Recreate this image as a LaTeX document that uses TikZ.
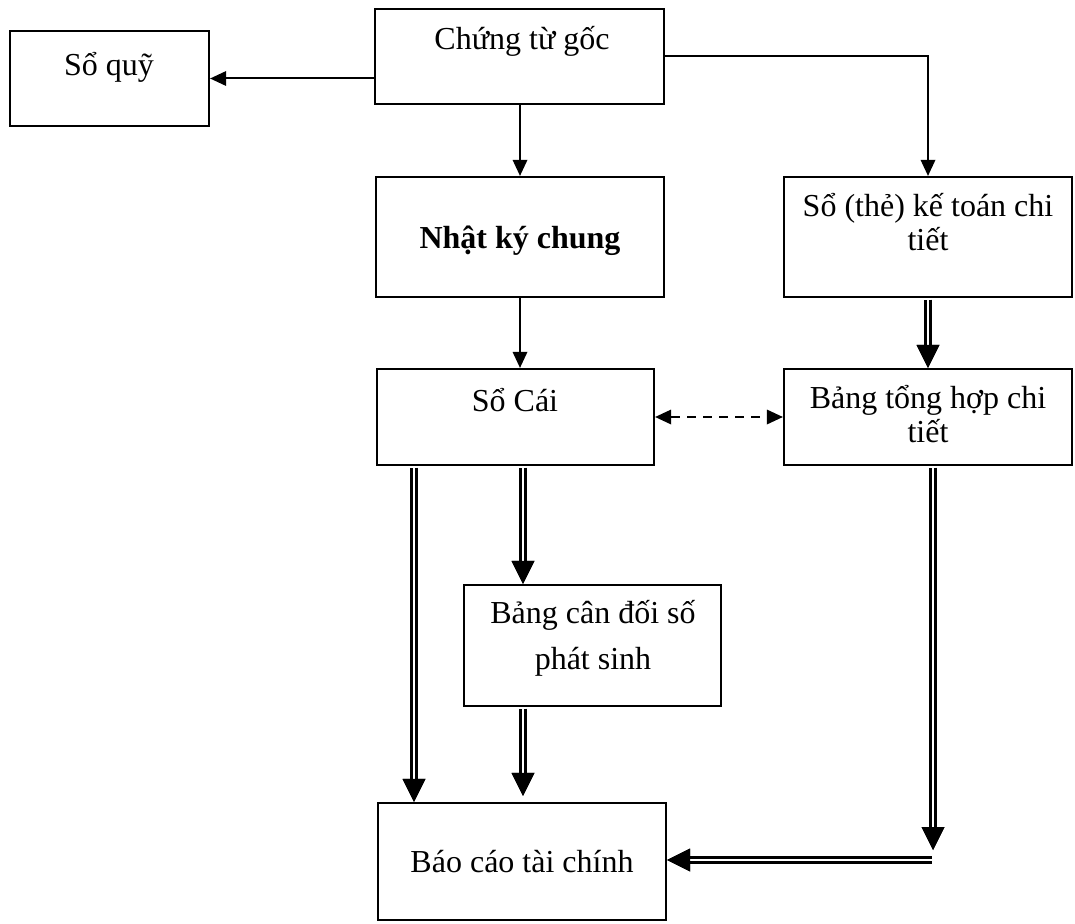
\documentclass[tikz,border=0pt]{standalone}
\usepackage{fontspec}
\setmainfont{Liberation Serif}
\usetikzlibrary{arrows.meta}
\begin{document}
\begin{tikzpicture}[x=1pt,y=-1pt,
  box/.style={draw, line width=2.3, rectangle, inner sep=0pt},
  lbl/.style={anchor=base, inner sep=0pt, font=\fontsize{32}{38}\selectfont},
  arr/.style={line width=2, -{Triangle[length=16pt,width=15pt,line width=0pt]}},
  dasharr/.style={line width=2, dash pattern=on 9pt off 7pt,
    {Triangle[length=16pt,width=15pt,line width=0pt]}-{Triangle[length=16pt,width=15pt,line width=0pt]}},
  dbl/.style={draw=white, line width=2.8, preaction={draw=black, line width=7.2},
    -{Triangle[length=23pt,width=23pt,line width=0pt,color=black]}, shorten <=1.5pt}
]
\useasboundingbox (0,0) rectangle (1075,923);

% boxes
\node[box, minimum width=199pt, minimum height=95pt]  (quy)  at (109.5,78.5) {};
\node[box, minimum width=289pt, minimum height=95pt]  (ctg)  at (519.5,56.5) {};
\node[box, minimum width=288pt, minimum height=120pt] (nkc)  at (520,237) {};
\node[box, minimum width=288pt, minimum height=120pt] (sct)  at (928,237) {};
\node[box, minimum width=277pt, minimum height=96pt]  (soc)  at (515.5,417) {};
\node[box, minimum width=288pt, minimum height=96pt]  (bth)  at (928,417) {};
\node[box, minimum width=257pt, minimum height=121pt] (bcd)  at (592.5,645.5) {};
\node[box, minimum width=288pt, minimum height=117pt] (bctc) at (522,861.5) {};

% labels
\node[lbl] (tquy)  at (109,76)  {Sổ quỹ};
\node[lbl] (tctg)  at (522,50)  {Chứng từ gốc};
\node[lbl, font=\fontsize{32}{38}\selectfont\bfseries] (tnkc) at (520,248) {Nhật ký chung};
\node[lbl] (tsct1) at (928,216) {Sổ (thẻ) kế toán chi};
\node[lbl] (tsct2) at (928,250) {tiết};
\node[lbl] (tsoc)  at (515,411) {Sổ Cái};
\node[lbl] (tbth1) at (928,408) {Bảng tổng hợp chi};
\node[lbl] (tbth2) at (928,442) {tiết};
\node[lbl] (tbcd1) at (593,623) {Bảng cân đối số};
\node[lbl] (tbcd2) at (593,669) {phát sinh};
\node[lbl] (tbctc) at (522,872) {Báo cáo tài chính};

% helper points on the right-hand return path
\coordinate (rdown) at (933,850);
\coordinate (rleft) at (933,860);

% single arrows
\draw[arr] (ctg.west |- quy.east) -- (quy.east);
\draw[arr] (ctg.south -| nkc.north) -- (nkc.north);
\draw[arr] (ctg.east) -| (sct.north);
\draw[arr] (nkc.south) -- (nkc.south |- soc.north);
\draw[dasharr] (soc.east) -- (bth.west);

% double arrows
\draw[dbl] (sct.south) -- (bth.north);
\draw[dbl] (soc.south -| 414,0) -- (bctc.north -| 414,0);
\draw[dbl] (soc.south -| 523,0) -- (bcd.north -| 523,0);
\draw[dbl, shorten >=6pt] (bcd.south -| 523,0) -- (bctc.north -| 523,0);
\draw[dbl] (bth.south -| rdown) -- (rdown);
\draw[dbl] (rleft) -- (bctc.east |- rleft);
\end{tikzpicture}
\end{document}
